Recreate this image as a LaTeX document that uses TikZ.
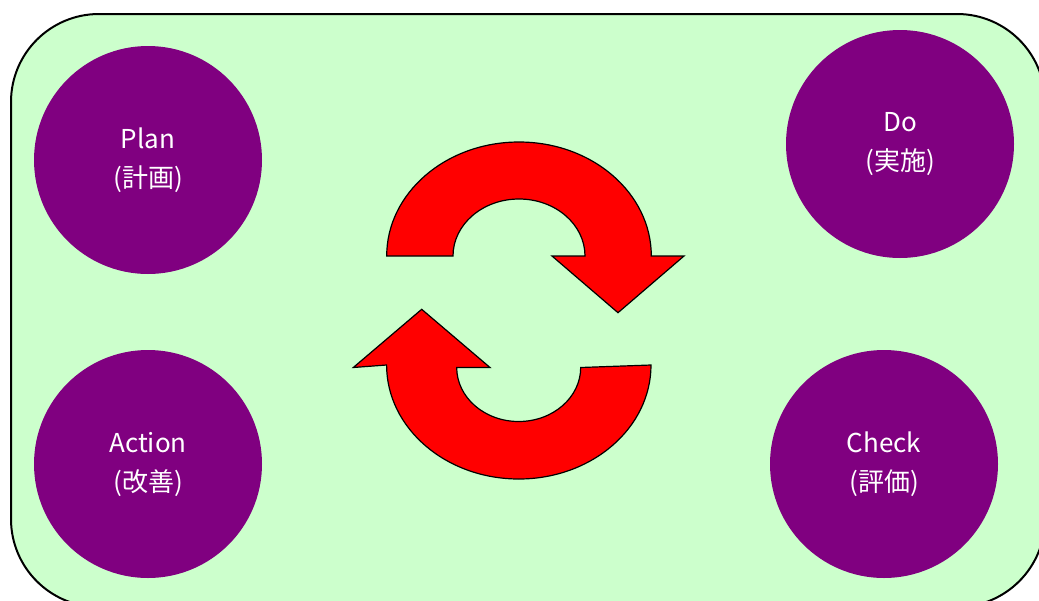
\documentclass[tikz,border=0pt]{standalone}
\usepackage{fontspec}
\newfontfamily\jpfont{Noto Sans CJK JP}
\definecolor{bggreen}{HTML}{CCFFCC}
\definecolor{pdcapurple}{HTML}{800080}
\definecolor{arrowred}{HTML}{FF0000}
\begin{document}
\begin{tikzpicture}[x=1pt,y=-1pt,
  phase/.style={circle, fill=pdcapurple, minimum size=228pt, inner sep=0pt,
    text=white, align=center, font=\jpfont\fontsize{26}{39}\selectfont},
  cyclearrow/.style={fill=arrowred, draw=black, line width=1.2pt, line join=miter}]
\useasboundingbox (0,0) rectangle (1039,600);
\clip (0,0) rectangle (1039,600);
\fill[white] (0,0) rectangle (1039,600);
\draw[fill=bggreen, line width=2pt, rounded corners=88pt] (11,14) rectangle (1045,607);
\node[phase] (plan) at (148,160) {Plan\\(計画)};
\node[phase] (do) at (900,144) {Do\\(実施)};
\node[phase] (action) at (148,464) {Action\\(改善)};
\node[phase] (check) at (884,464) {Check\\(評価)};
% upper cycle arrow
\draw[cyclearrow] (386.7,256) arc[start angle=180, end angle=360, x radius=132.3, y radius=114]
  -- (684,256) -- (618,312.7) -- (552,256) -- (585,256)
  arc[start angle=360, end angle=180, x radius=66, y radius=57] -- cycle;
% lower cycle arrow
\draw[cyclearrow] (651,365) arc[start angle=0, end angle=180, x radius=132.2, y radius=114]
  -- (353.3,367.5) -- (421.7,309.3) -- (490,367.5) -- (456.7,367.5)
  arc[start angle=180, end angle=0, x radius=62, y radius=54] -- cycle;
\end{tikzpicture}
\end{document}
